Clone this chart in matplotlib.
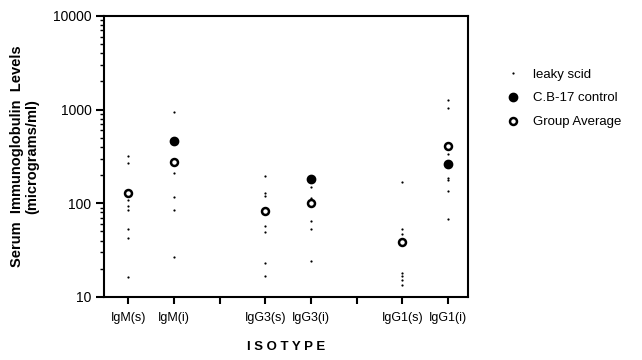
import matplotlib
matplotlib.use("Agg")
import matplotlib.pyplot as plt
from matplotlib.lines import Line2D
from matplotlib.ticker import LogLocator, NullFormatter

plt.rcParams['font.family'] = ['Liberation Sans', 'DejaVu Sans']

categories = ["IgM(s)", "IgM(i)", "", "IgG3(s)", "IgG3(i)", "", "IgG1(s)", "IgG1(i)"]
positions = [1, 2, 3, 4, 5, 6, 7, 8]

# leaky scid individual values per isotype
leaky = {
    "IgM(s)": [322, 267, 108, 94, 85, 53, 43, 16.2],
    "IgM(i)": [935, 212, 118, 85, 27],
    "IgG3(s)": [195, 128, 120, 57, 49, 23, 16.8],
    "IgG3(i)": [148, 115, 65, 53, 24],
    "IgG1(s)": [168, 53, 47, 18.2, 16.8, 15.2, 13.4],
    "IgG1(i)": [1265, 1032, 336, 185, 176, 135, 68],
}
control_cats = ["IgM(i)", "IgG3(i)", "IgG1(i)"]
control_vals = [462, 182, 263]
avg_cats = ["IgM(s)", "IgM(i)", "IgG3(s)", "IgG3(i)", "IgG1(s)", "IgG1(i)"]
avg_vals = [128, 278, 83, 100, 39, 412]

pos_of = {c: p for c, p in zip(categories, positions) if c}

fig = plt.figure(figsize=(6.42, 3.6), dpi=100)
ax = fig.add_axes([0.162, 0.175, 0.567, 0.781])

for cat, vals in leaky.items():
    ax.plot([pos_of[cat]] * len(vals), vals, linestyle='none', marker='o',
            markersize=1.6, color='black', markeredgewidth=0)
ax.plot([pos_of[c] for c in control_cats], control_vals, linestyle='none',
        marker='o', markersize=6, color='black')
ax.plot([pos_of[c] for c in avg_cats], avg_vals, linestyle='none', marker='o',
        markersize=5, markerfacecolor='white', markeredgecolor='black',
        markeredgewidth=1.8)

ax.set_yscale('log')
ax.set_ylim(10, 10000)
ax.set_xlim(0.47, 8.44)
ax.set_yticks([10, 100, 1000, 10000])
ax.set_yticklabels(["10", "100", "1000", "10000"])
ax.yaxis.set_minor_locator(LogLocator(base=10, subs=range(2, 10)))
ax.yaxis.set_minor_formatter(NullFormatter())
ax.set_xticks(positions)
ax.set_xticklabels(categories)

for s in ax.spines.values():
    s.set_linewidth(1.5)
    s.set_color('black')
ax.tick_params(axis='y', which='major', direction='out', length=6, width=1.5,
               labelsize=10, pad=3)
ax.tick_params(axis='y', which='minor', direction='out', length=3, width=1)
ax.tick_params(axis='x', which='major', direction='out', length=5, width=1.5,
               labelsize=9, pad=6)

ax.set_ylabel("Serum  Immunoglobulin  Levels\n(micrograms/ml)", fontsize=10.5,
              fontweight='bold', labelpad=10, linespacing=1.1)
ax.set_xlabel("I S O T Y P E", fontsize=9.5, fontweight='bold', labelpad=12)

handles = [
    Line2D([], [], linestyle='none', marker='o', markersize=1.6, color='black',
           markeredgewidth=0),
    Line2D([], [], linestyle='none', marker='o', markersize=6, color='black'),
    Line2D([], [], linestyle='none', marker='o', markersize=5,
           markerfacecolor='white', markeredgecolor='black', markeredgewidth=1.8),
]
fig.legend(handles, ["leaky scid", "C.B-17 control", "Group Average"],
           loc='upper left', bbox_to_anchor=(0.77, 0.843), frameon=False,
           fontsize=9.5, handlelength=1.0, handletextpad=1.0, labelspacing=0.88)

fig.savefig("out.png", dpi=100)
